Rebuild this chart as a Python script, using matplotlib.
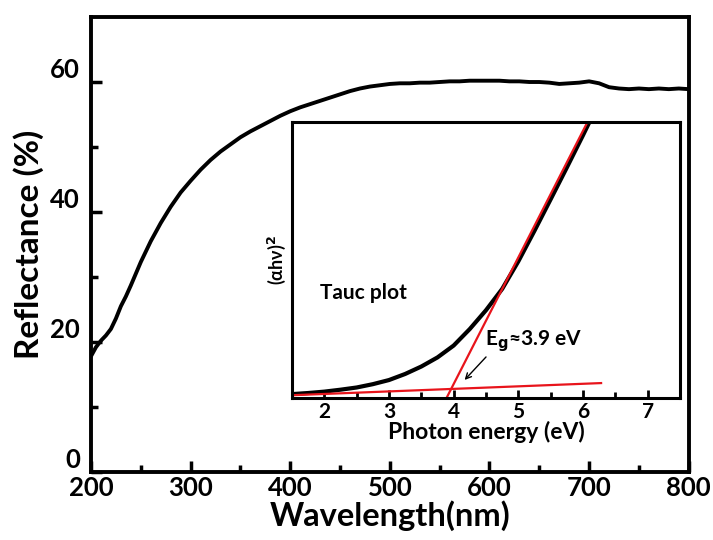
import matplotlib
matplotlib.use('Agg')
import matplotlib.pyplot as plt
import matplotlib.transforms as mtransforms

plt.rcParams['font.family'] = ['Lato', 'DejaVu Sans']
plt.rcParams['font.weight'] = 'bold'

# main reflectance spectrum
wavelength = [200, 205, 210, 215, 220, 225, 230, 235, 240, 250, 260, 270, 280, 290,
              300, 310, 320, 330, 340, 350, 360, 370, 380, 390, 400, 410, 420, 430,
              440, 450, 460, 470, 480, 490, 500, 510, 520, 530, 540, 550, 560, 570,
              580, 590, 600, 610, 620, 630, 640, 650, 660, 670, 680, 690, 700, 710,
              720, 730, 740, 750, 760, 770, 780, 790, 800]
reflectance = [17.8, 19.2, 20.2, 21.0, 22.0, 23.6, 25.5, 27.0, 28.7, 32.3, 35.5, 38.3,
               40.8, 43.0, 44.8, 46.5, 48.0, 49.3, 50.4, 51.5, 52.4, 53.2, 54.0, 54.8,
               55.5, 56.1, 56.6, 57.1, 57.6, 58.1, 58.6, 59.0, 59.3, 59.5, 59.7, 59.8,
               59.8, 59.9, 59.9, 60.0, 60.1, 60.1, 60.2, 60.2, 60.2, 60.2, 60.1, 60.1,
               60.0, 60.0, 59.9, 59.7, 59.8, 59.9, 60.1, 59.8, 59.2, 59.0, 58.9, 59.0,
               58.9, 59.0, 58.9, 59.0, 58.9]

# Tauc plot inset
energy = [1.5, 1.75, 2.0, 2.25, 2.5, 2.75, 3.0, 3.25, 3.5, 3.75, 4.0, 4.25, 4.5,
          4.75, 5.0, 5.25, 5.5, 5.75, 6.0, 6.1]
tauc = [0.014, 0.018, 0.023, 0.030, 0.038, 0.050, 0.065, 0.087, 0.114, 0.147, 0.190,
        0.250, 0.318, 0.395, 0.495, 0.606, 0.72, 0.835, 0.952, 1.0]
fit_x = [3.89, 6.1]
fit_y = [0.0, 1.014]
base_x = [1.5, 6.28]
base_y = [0.010, 0.054]

fig = plt.figure(figsize=(7.13, 5.40), dpi=100)
ax = fig.add_axes([0.1276, 0.126, 0.8384, 0.8425])
ax.plot(wavelength, reflectance, color='black', lw=2.8)
ax.set_xlim(200, 800)
ax.set_ylim(0, 70)
ax.set_xticks([200, 300, 400, 500, 600, 700, 800])
ax.set_xticks([250, 350, 450, 550, 650, 750], minor=True)
ax.set_yticks([0, 20, 40, 60])
ax.set_yticks([10, 30, 50], minor=True)
ax.tick_params(which='both', direction='in', width=2.5, labelsize=18.5)
ax.tick_params(which='major', length=8)
ax.tick_params(which='minor', length=5)
ax.tick_params(axis='x', which='major', pad=3)
ax.tick_params(axis='y', which='major', pad=8)
for s in ax.spines.values():
    s.set_linewidth(2.8)
# y tick labels sit a little above their ticks in the original
shift = mtransforms.ScaledTranslation(0, 0.14, fig.dpi_scale_trans)
for lab in ax.get_yticklabels():
    lab.set_transform(lab.get_transform() + shift)
ax.set_xlabel('Wavelength(nm)', fontsize=23.5, fontweight='bold', labelpad=0)
ax.set_ylabel('Reflectance (%)', fontsize=24, fontweight='bold', labelpad=4)

ins = fig.add_axes([0.4095, 0.263, 0.5442, 0.511])
ins.plot(energy, tauc, color='black', lw=3.0)
ins.plot(fit_x, fit_y, color='#e8141b', lw=1.6)
ins.plot(base_x, base_y, color='#e8141b', lw=1.6)
ins.set_xlim(1.5, 7.5)
ins.set_ylim(0, 1)
ins.set_xticks([2, 3, 4, 5, 6, 7])
ins.set_xticks([2.5, 3.5, 4.5, 5.5, 6.5], minor=True)
ins.set_yticks([])
ins.tick_params(which='both', direction='in', width=2, labelsize=15)
ins.tick_params(which='major', length=6, pad=3)
ins.tick_params(which='minor', length=4)
for s in ins.spines.values():
    s.set_linewidth(2.2)
ins.set_xlabel('Photon energy (eV)', fontsize=16.5, fontweight='bold', labelpad=-1)
ins.set_ylabel('(αhν)$^\\mathbf{2}$', fontsize=13, fontweight='bold', labelpad=3)
ins.text(1.93, 0.38, 'Tauc plot', fontsize=15, fontweight='bold', va='center')
ins.text(4.48, 0.205, 'E$_\\mathbf{g}$≈3.9 eV', fontsize=15, fontweight='bold', va='center')
ins.annotate('', xy=(4.14, 0.058), xytext=(4.53, 0.156),
             arrowprops=dict(arrowstyle='->', color='black', lw=1.0))

fig.savefig('out.png', dpi=100)
